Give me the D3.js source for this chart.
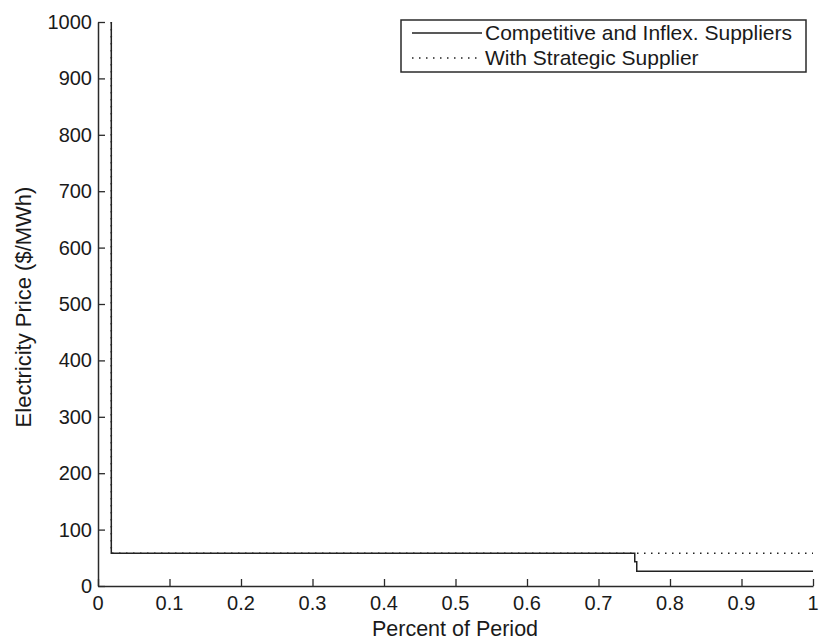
<!DOCTYPE html>
<html>
<head>
<meta charset="utf-8">
<script src="https://cdn.jsdelivr.net/npm/d3@7"></script>
<style>
  html, body { margin: 0; padding: 0; background: #fff; }
  svg { display: block; }
  text { font-family: "Liberation Sans", Arial, sans-serif; fill: #1a1a1a; }
</style>
</head>
<body>
<svg id="chart" width="819" height="643"></svg>
<script>
// Price duration curves: share of the period vs. clearing price
const xCompetitive = [0.0186, 0.0186, 0.7507, 0.7507, 0.7535, 0.7535, 1.0];
const yCompetitive = [1000, 58, 58, 43, 43, 26, 26];
const xStrategic = [0.0186, 0.0186, 1.0];
const yStrategic = [1000, 58, 58];

const xTicks = [0, 0.1, 0.2, 0.3, 0.4, 0.5, 0.6, 0.7, 0.8, 0.9, 1];
const xTickLabels = ["0", "0.1", "0.2", "0.3", "0.4", "0.5", "0.6", "0.7", "0.8", "0.9", "1"];
const yTicks = [0, 100, 200, 300, 400, 500, 600, 700, 800, 900, 1000];
const seriesNames = ["Competitive and Inflex. Suppliers", "With Strategic Supplier"];

const svg = d3.select("#chart");
const plotLeft = 98, plotRight = 813, plotTop = 22, plotBottom = 586;
const tickFont = 20;
const titleFont = 21.5;
const legendFont = 21;
const tickLen = 7;
const axisColor = "#2a2a2a";

const x = d3.scaleLinear().domain([0, 1]).range([plotLeft, plotRight]);
const y = d3.scaleLinear().domain([0, 1000]).range([plotBottom, plotTop]);

// X axis: ticks point inward (up)
const xAxis = svg.append("g").attr("transform", `translate(0,${plotBottom})`)
  .call(d3.axisTop(x).tickValues(xTicks).tickFormat("").tickSizeInner(tickLen).tickSizeOuter(0));
xAxis.select(".domain").attr("stroke", axisColor).attr("stroke-width", 1.5);
xAxis.selectAll(".tick line").attr("stroke", axisColor).attr("stroke-width", 1.3);
svg.append("g").selectAll("text").data(xTicks).join("text")
  .attr("x", d => x(d)).attr("y", plotBottom + 24)
  .attr("text-anchor", "middle").attr("font-size", tickFont)
  .text((d, i) => xTickLabels[i]);

// Y axis: ticks point inward (right)
const yAxis = svg.append("g").attr("transform", `translate(${plotLeft},0)`)
  .call(d3.axisRight(y).tickValues(yTicks).tickFormat("").tickSizeInner(tickLen).tickSizeOuter(0));
yAxis.select(".domain").attr("stroke", axisColor).attr("stroke-width", 1.5);
yAxis.selectAll(".tick line").attr("stroke", axisColor).attr("stroke-width", 1.3);
svg.append("g").selectAll("text").data(yTicks).join("text")
  .attr("x", plotLeft - 6).attr("y", d => y(d) + 7)
  .attr("text-anchor", "end").attr("font-size", tickFont)
  .text(d => d);

// Axis titles
svg.append("text").attr("x", 455).attr("y", 636)
  .attr("text-anchor", "middle").attr("font-size", titleFont).text("Percent of Period");
svg.append("text").attr("transform", `translate(31,307) rotate(-90)`)
  .attr("text-anchor", "middle").attr("font-size", 22).text("Electricity Price ($/MWh)");

// Series
const toPoints = (xs, ys) => xs.map((v, i) => [v, ys[i]]);
const line = d3.line().x(d => x(d[0])).y(d => y(d[1]));

svg.append("path").datum(toPoints(xStrategic, yStrategic))
  .attr("d", line).attr("fill", "none").attr("stroke", "#222")
  .attr("stroke-width", 1.5).attr("stroke-dasharray", "1.5,5.5");
svg.append("path").datum(toPoints(xCompetitive, yCompetitive))
  .attr("d", line).attr("fill", "none").attr("stroke", "#222")
  .attr("stroke-width", 1.5);

// Legend
const lg = svg.append("g");
const lgX0 = 401, lgX1 = 806, lgY0 = 20, lgY1 = 72;
lg.append("rect").attr("x", lgX0).attr("y", lgY0).attr("width", lgX1 - lgX0).attr("height", lgY1 - lgY0)
  .attr("fill", "#fff").attr("stroke", axisColor).attr("stroke-width", 1.5);
const rows = [lgY0 + 13, lgY0 + 38];
const dashes = [null, "1.5,5.5"];
seriesNames.forEach((name, i) => {
  lg.append("line").attr("x1", 412).attr("x2", 482).attr("y1", rows[i]).attr("y2", rows[i])
    .attr("stroke", "#222").attr("stroke-width", 1.5).attr("stroke-dasharray", dashes[i]);
  lg.append("text").attr("x", 485).attr("y", rows[i] + 7).attr("font-size", legendFont).text(name);
});
</script>
</body>
</html>
